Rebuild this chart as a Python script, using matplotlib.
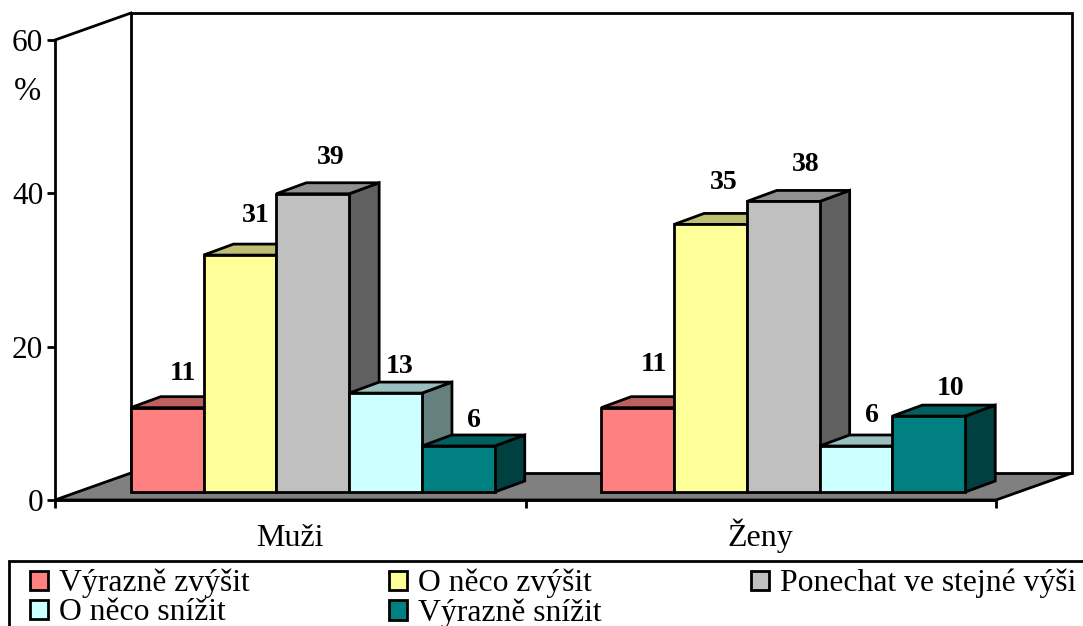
import matplotlib
matplotlib.use("Agg")
import matplotlib.pyplot as plt
from matplotlib.patches import Patch, Rectangle
from matplotlib.ticker import FixedLocator, NullFormatter

plt.rcParams['font.family'] = ['Liberation Serif', 'DejaVu Serif']

categories = ["Muži", "Ženy"]
series = ["Výrazně zvýšit", "O něco zvýšit", "Ponechat ve stejné výši", "O něco snížit", "Výrazně snížit"]
value_labels = [[11, 31, 39, 13, 6], [11, 35, 38, 6, 10]]
heights = [[11, 30.9, 38.9, 12.9, 6], [11, 34.9, 37.9, 6, 9.9]]
colors = ["#FF8080", "#FFFF99", "#C0C0C0", "#CCFFFF", "#008080"]
yticks = [0, 20, 40, 60]
# value label offsets in pixels from the top centre of each bar's back edge
label_dx = [[15.5, 16, 18, 14.5, 15.5], [16, 13.5, 22.5, 15.5, 22]]
label_dy = [[23.5, 28.5, 25.5, 15.5, 14.5], [32.5, 30.5, 25.5, 19.5, 16.5]]

W, H = 1083, 626
fig = plt.figure(figsize=(W / 100, H / 100), dpi=100, facecolor="white")
L, R, T, B = 55, 996, 40, 500
ax = fig.add_axes([L / W, 1 - B / H, (R - L) / W, (B - T) / H])
ax.set_xlim(0, 2)
ax.set_ylim(0, 60)
ax.patch.set_visible(False)
LW = 2.0
for s in ["top", "right"]:
    ax.spines[s].set_visible(False)
for s in ["left", "bottom"]:
    ax.spines[s].set_linewidth(LW)
    ax.spines[s].set_zorder(20)

px_x = 2 / (R - L)
px_y = 60 / (B - T)
DX, DY = 76 * px_x, 27 * px_y       # full depth of the chart box
bdx, bdy = 30 * px_x, 11 * px_y     # depth of a bar
fdx, fdy = 22.5 * px_x, 8 * px_y    # offset of bar front from the front plane
bw = 72.8 * px_x


def shade(c, f):
    r, g, b = matplotlib.colors.to_rgb(c)
    return (r * f, g * f, b * f)


def poly(xs, ys, fc, z):
    ax.fill(xs, ys, facecolor=fc, edgecolor="black", linewidth=LW, zorder=z,
            clip_on=False, joinstyle="miter")


# floor and walls
poly([0, 2, 2 + DX, DX], [0, 0, DY, DY], "#808080", 1)
poly([DX, 2 + DX, 2 + DX, DX], [DY, DY, 60 + DY, 60 + DY], "white", 1)
ax.plot([0, DX], [60, 60 + DY], color="black", lw=LW, clip_on=False, zorder=2)

# bars
for ci, hs in enumerate(heights):
    start = ci + 0.5 - 2.5 * bw + fdx
    for si, h in enumerate(hs):
        x0 = start + si * bw
        x1 = x0 + bw
        ybase = fdy
        ytop = ybase + h
        c = colors[si]
        z = 5 + si * 0.1
        poly([x1, x1 + bdx, x1 + bdx, x1], [ybase, ybase + bdy, ytop + bdy, ytop], shade(c, 0.5), z)
        poly([x0, x1, x1 + bdx, x0 + bdx], [ytop, ytop, ytop + bdy, ytop + bdy], shade(c, 0.75), z)
        poly([x0, x1, x1, x0], [ybase, ybase, ytop, ytop], c, z + 0.05)
        ax.annotate(str(value_labels[ci][si]), xy=(x0 + bw / 2, ytop + bdy),
                    xytext=(label_dx[ci][si], label_dy[ci][si]), textcoords="offset pixels",
                    ha="center", va="center", fontsize=20, fontweight="bold", color="black",
                    zorder=10, annotation_clip=False)

# axis ticks and labels
ax.set_yticks(yticks)
ax.tick_params(axis="y", direction="out", length=5.5, width=LW, labelsize=22.5, pad=3)
ax.set_xticks([0, 1, 2])
ax.xaxis.set_major_formatter(NullFormatter())
ax.tick_params(axis="x", which="major", direction="out", length=6, width=LW)
ax.xaxis.set_minor_locator(FixedLocator([0.5, 1.5]))
ax.set_xticklabels(categories, minor=True)
ax.tick_params(axis="x", which="minor", length=0, labelsize=23, pad=33)
for t in ax.get_xticklabels(minor=True):
    t.set_verticalalignment("baseline")
ax.text(-0.0595, 53.2, "%", fontsize=23.5, ha="center", va="center", clip_on=False)

# legend frame and legend
fig.add_artist(Rectangle((8.5 / W, -0.1), 1.2, 1 - 560.5 / H + 0.1, transform=fig.transFigure,
                         facecolor="white", edgecolor="black", linewidth=LW, zorder=0))
handles = [Patch(facecolor=c, edgecolor="black", linewidth=LW, label=s) for c, s in zip(colors, series)]
order = [0, 3, 1, 4, 2]
leg = fig.legend([handles[i] for i in order], [series[i] for i in order],
                 ncol=3, loc="upper left", bbox_to_anchor=(29.5 / W, 1 - 569 / H),
                 fontsize=22.8, frameon=False,
                 borderaxespad=0, borderpad=0, handlelength=0.57, handleheight=0.57,
                 handletextpad=0.35, columnspacing=4.42, labelspacing=0.0)
middle_column = leg._legend_handle_box.get_children()[1]
middle_column.align = "left"
middle_column.width = 222

fig.savefig("out.png", dpi=100)
